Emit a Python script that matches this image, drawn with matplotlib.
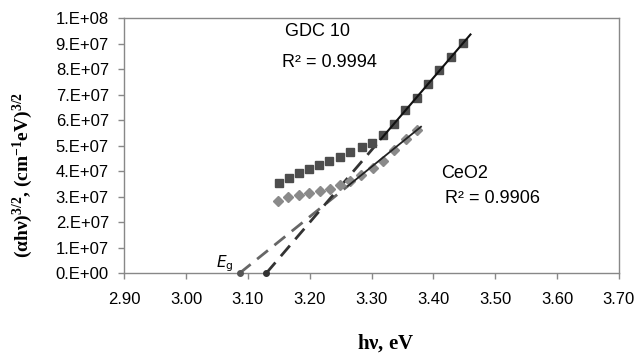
import matplotlib
matplotlib.use("Agg")
import matplotlib.pyplot as plt
import numpy as np

# GDC 10 data (squares)
gdc_x = [3.150, 3.166, 3.183, 3.199, 3.215, 3.232, 3.249, 3.266, 3.284, 3.301,
         3.319, 3.337, 3.354, 3.373, 3.392, 3.409, 3.428, 3.448]
gdc_y = [35.4e6, 37.4e6, 39.2e6, 40.9e6, 42.5e6, 44.1e6, 45.6e6, 47.3e6, 49.4e6, 51.2e6,
         54.1e6, 58.3e6, 63.9e6, 68.8e6, 74.0e6, 79.6e6, 84.6e6, 90.1e6]

# CeO2 data (diamonds)
ceo_x = [3.149, 3.165, 3.182, 3.199, 3.216, 3.233, 3.249, 3.265, 3.283, 3.302,
         3.319, 3.337, 3.355, 3.373]
ceo_y = [28.2e6, 29.7e6, 30.6e6, 31.5e6, 32.3e6, 33.1e6, 34.4e6, 36.1e6, 38.4e6, 41.3e6,
         43.9e6, 48.2e6, 52.4e6, 56.3e6]

# Fit lines: (x-intercept Eg, start of solid part, end point)
gdc_fit_x = [3.130, 3.315, 3.460]
gdc_fit_y = [0.0, 52.5e6, 93.6e6]
ceo_fit_x = [3.087, 3.262, 3.380]
ceo_fit_y = [0.0, 34.2e6, 57.4e6]

xticks = [2.90, 3.00, 3.10, 3.20, 3.30, 3.40, 3.50, 3.60, 3.70]
yticks = [0, 1e7, 2e7, 3e7, 4e7, 5e7, 6e7, 7e7, 8e7, 9e7, 1e8]
ytick_labels = ["0.E+00", "1.E+07", "2.E+07", "3.E+07", "4.E+07", "5.E+07",
                "6.E+07", "7.E+07", "8.E+07", "9.E+07", "1.E+08"]

plt.rcParams["mathtext.fontset"] = "custom"
plt.rcParams["mathtext.rm"] = "Liberation Serif:bold"
plt.rcParams["mathtext.bf"] = "Liberation Serif:bold"
plt.rcParams["mathtext.it"] = "Liberation Serif:bold"

fig = plt.figure(figsize=(6.4, 3.56), dpi=100)
ax = fig.add_axes([0.194, 0.233, 0.773, 0.716])

sans = "Liberation Sans"

# dashed extrapolations
ax.plot(ceo_fit_x[:2], ceo_fit_y[:2], color="#666666", lw=2.0, ls=(0, (5, 3)), zorder=2)
ax.plot(gdc_fit_x[:2], gdc_fit_y[:2], color="#333333", lw=2.0, ls=(0, (5, 3)), zorder=2)
# solid fit segments
ax.plot(ceo_fit_x[1:], ceo_fit_y[1:], color="#222222", lw=1.3, zorder=4)
ax.plot(gdc_fit_x[1:], gdc_fit_y[1:], color="#111111", lw=1.5, zorder=4)
# intercept dots
ax.plot([ceo_fit_x[0]], [ceo_fit_y[0]], "o", color="#555555", ms=4, zorder=5, clip_on=False)
ax.plot([gdc_fit_x[0]], [gdc_fit_y[0]], "o", color="#333333", ms=4, zorder=5, clip_on=False)

ax.plot(gdc_x, gdc_y, "s", color="#4d4d4d", ms=5.5, zorder=3)
ax.plot(ceo_x, ceo_y, "D", color="#8a8a8a", ms=5, zorder=3)

ax.set_xlim(2.90, 3.70)
ax.set_ylim(0, 1e8)
ax.set_xticks(xticks)
ax.set_xticklabels([f"{v:.2f}" for v in xticks], fontfamily=sans, fontsize=12)
ax.set_yticks(yticks)
ax.set_yticklabels(ytick_labels, fontfamily=sans, fontsize=12)
ax.tick_params(axis="both", direction="out", length=4, color="#888888", width=1)
ax.tick_params(axis="x", pad=9.5)
ax.tick_params(axis="y", pad=7)
for s in ax.spines.values():
    s.set_color("#888888")
    s.set_linewidth(1.0)

ax.text(3.160, 94.9e6, "GDC 10", fontfamily=sans, fontsize=13, ha="left", va="center")
ax.text(3.155, 82.7e6, "R² = 0.9994", fontfamily=sans, fontsize=13, ha="left", va="center")
ax.text(3.412, 39.2e6, "CeO2", fontfamily=sans, fontsize=13, ha="left", va="center")
ax.text(3.419, 29.4e6, "R² = 0.9906", fontfamily=sans, fontsize=13, ha="left", va="center")
ax.text(3.062, 2.2e6, r"$E_\mathrm{g}$", fontsize=11, ha="center", va="baseline",
        math_fontfamily="dejavusans")

fig.text(0.036, 0.508, r"($\mathbf{\alpha}$h$\nu$)$^{3/2}$, (cm$^{-1}$eV)$^{3/2}$",
         rotation=90, ha="center", va="center", fontfamily="Liberation Serif",
         fontweight="bold", fontsize=14)
fig.text(0.602, 0.036, r"h$\nu$, eV", ha="center", va="center",
         fontfamily="Liberation Serif", fontweight="bold", fontsize=15)

fig.savefig("out.png", dpi=100)
